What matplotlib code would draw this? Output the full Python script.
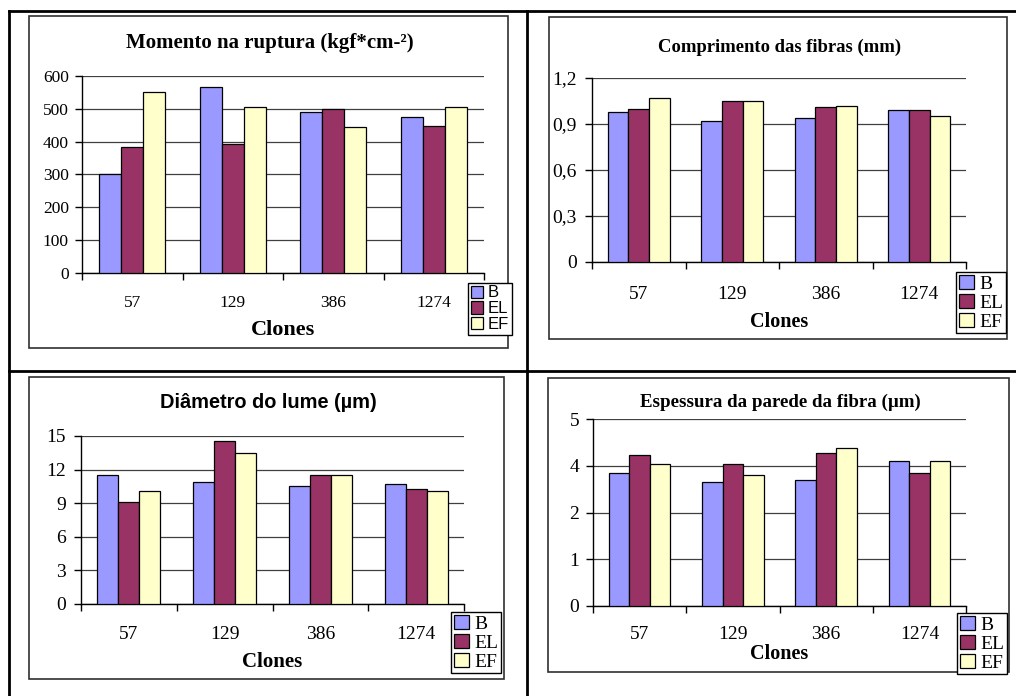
import matplotlib
matplotlib.use("Agg")
import matplotlib.pyplot as plt
from matplotlib.patches import Rectangle
from matplotlib.lines import Line2D
import numpy as np

# dados
clones = ["57", "129", "386", "1274"]
series = ["B", "EL", "EF"]
colors = ["#9999FF", "#993366", "#FFFFCC"]

momento_B = [300, 568, 490, 475]
momento_EL = [383, 393, 500, 448]
momento_EF = [550, 507, 444, 507]

compr_B = [0.98, 0.92, 0.94, 0.99]
compr_EL = [1.00, 1.05, 1.01, 0.99]
compr_EF = [1.07, 1.05, 1.02, 0.95]

diam_B = [11.5, 10.85, 10.5, 10.75]
diam_EL = [9.1, 14.55, 11.5, 10.3]
diam_EF = [10.05, 13.45, 11.5, 10.05]

esp_B = [3.56, 3.31, 3.38, 3.87]
esp_EL = [4.03, 3.79, 4.09, 3.56]
esp_EF = [3.79, 3.51, 4.22, 3.87]

W, H = 1016, 696
fig = plt.figure(figsize=(W / 100, H / 100), dpi=100)
SERIF = "Liberation Serif"
SANS = "Liberation Sans"


def fx(x):
    return x / W


def fy(y):
    return 1 - y / H


def chart(box, plot, title, title_font, title_size, title_xy, data, ymax, yticks, ylabels,
          leg_box, leg_font, leg_size, clones_y, clones_size, tick_size, xpad, ypad):
    # moldura do grafico
    x0, y0, x1, y1 = box
    fig.add_artist(Rectangle((fx(x0), fy(y1)), fx(x1 - x0), (y1 - y0) / H,
                             transform=fig.transFigure, fill=False,
                             edgecolor="#303030", lw=1.2))
    px0, py0, px1, py1 = plot
    ax = fig.add_axes([fx(px0), fy(py1), fx(px1 - px0), (py1 - py0) / H])
    x = np.arange(len(clones))
    bw = 0.22
    for i, (vals, c, name) in enumerate(zip(data, colors, series)):
        ax.bar(x + (i - 1) * bw, vals, bw, color=c, edgecolor="black",
               linewidth=0.9, label=name, zorder=3)
    ax.set_xlim(-0.5, len(clones) - 0.5)
    ax.set_ylim(0, ymax)
    ax.set_yticks(yticks)
    ax.set_yticklabels(ylabels, fontfamily=SERIF, fontsize=tick_size)
    ax.yaxis.grid(True, color="#404040", lw=0.9, zorder=0)
    ax.set_xticks(np.arange(-0.5, len(clones), 1.0))
    ax.set_xticklabels([])
    ax.set_xticks(x, minor=True)
    ax.set_xticklabels(clones, minor=True, fontfamily=SERIF, fontsize=tick_size)
    ax.tick_params(axis="x", which="minor", length=0, pad=xpad)
    ax.tick_params(axis="x", which="major", length=5, width=1, direction="out")
    ax.tick_params(axis="y", length=5, width=1, direction="out", pad=ypad)
    for s in ["top", "right"]:
        ax.spines[s].set_visible(False)
    ax.spines["left"].set_linewidth(1)
    ax.spines["bottom"].set_linewidth(1)
    fig.text(fx(title_xy[0]), fy(title_xy[1]), title, ha="center", va="center",
             fontfamily=title_font, fontweight="bold", fontsize=title_size)
    fig.text(fx((px0 + px1) / 2), fy(clones_y), "Clones", ha="center", va="center",
             fontfamily=SERIF, fontweight="bold", fontsize=clones_size)
    lx0, ly0, lx1, ly1 = leg_box
    leg = fig.legend(*ax.get_legend_handles_labels(), loc="upper left",
                     bbox_to_anchor=(fx(lx0), fy(ly0)), bbox_transform=fig.transFigure,
                     prop={"family": leg_font, "size": leg_size}, frameon=True, fancybox=False,
                     edgecolor="black", framealpha=1, borderpad=0.15, labelspacing=0.05,
                     handlelength=0.75, handleheight=0.75, handletextpad=0.3,
                     borderaxespad=0)
    leg.get_frame().set_linewidth(1)
    return ax


chart((29, 16, 508, 348), (82, 76, 484, 273), "Momento na ruptura (kgf*cm-²)", SERIF, 15,
      (270, 43), [momento_B, momento_EL, momento_EF], 600,
      [0, 100, 200, 300, 400, 500, 600], ["0", "100", "200", "300", "400", "500", "600"],
      (468, 283, 505, 343), SANS, 12, 330, 16, 12.5, 16, 4.5)

chart((549, 17, 1007, 339), (592, 78, 966, 262), "Comprimento das fibras (mm)", SERIF, 13.4,
      (780, 47), [compr_B, compr_EL, compr_EF], 1.2,
      [0, 0.3, 0.6, 0.9, 1.2], ["0", "0,3", "0,6", "0,9", "1,2"],
      (956, 272, 1006, 340), SERIF, 14, 322, 14.5, 14, 17.5, 6)

chart((29, 377, 504, 679), (81, 436, 464, 604), "Diâmetro do lume (µm)", SANS, 14.4,
      (268, 402), [diam_B, diam_EL, diam_EF], 15,
      [0, 3, 6, 9, 12, 15], ["0", "3", "6", "9", "12", "15"],
      (451, 612, 502, 678), SERIF, 14, 662, 15, 14, 16, 6)

chart((548, 378, 1009, 672), (593, 419, 966, 606), "Espessura da parede da fibra (µm)", SERIF, 13.6,
      (780, 402), [esp_B, esp_EL, esp_EF], 5,
      [0, 1.25, 2.5, 3.75, 5], ["0", "1", "2", "4", "5"],
      (957, 613, 1007, 672), SERIF, 14, 654, 14.5, 14, 14.5, 5)

# linhas da tabela
lk = dict(transform=fig.transFigure, color="black", lw=2)
fig.add_artist(Line2D([fx(9), fx(9)], [fy(11), 0], **lk))
fig.add_artist(Line2D([fx(9), 1], [fy(11), fy(11)], **lk))
fig.add_artist(Line2D([fx(527), fx(527)], [fy(11), 0], **lk))
fig.add_artist(Line2D([fx(9), 1], [fy(371), fy(371)], **lk))

fig.savefig("out.png", dpi=100)
